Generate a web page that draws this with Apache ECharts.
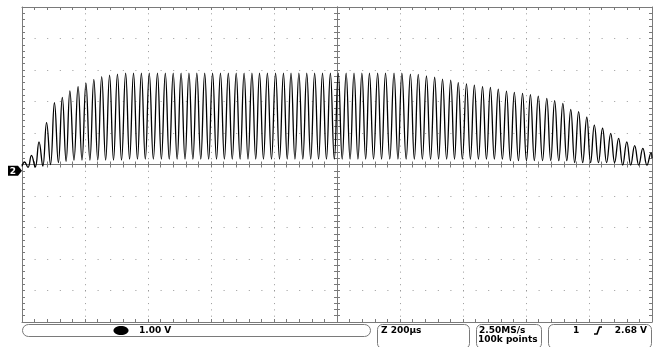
<!DOCTYPE html>
<html>
<head>
<meta charset="utf-8">
<script src="https://cdn.jsdelivr.net/npm/echarts@6/dist/echarts.min.js"></script>
<style>
  html, body { margin: 0; padding: 0; background: #fff; }
  #chart { width: 659px; height: 347px; }
</style>
</head>
<body>
<div id="chart"></div>
<script>
// time of each peak, µs (200 µs/div, trigger at 0)
const PEAK_T = [
  -992, -970, -946, -922, -897, -872, -848, -822, -797, -772,
  -747, -722, -697, -671, -646, -621, -596, -570, -545, -520,
  -495, -470, -445, -420, -395, -370, -345, -320, -295, -270,
  -246, -221, -195, -170, -146, -121, -96, -71, -46, -21,
  4, 29, 54, 79, 103, 129, 154, 181, 206, 233,
  258, 284, 310, 335, 361, 385, 411, 436, 462, 487,
  512, 538, 563, 589, 614, 639, 666, 691, 717, 742,
  767, 793, 817, 843, 869, 894, 920, 945, 971, 997
];
// peak voltage of each cycle, V (1.00 V/div)
const PEAK_V = [
  0.08, 0.29, 0.72, 1.33, 1.96, 2.13, 2.34, 2.47, 2.58, 2.70,
  2.79, 2.84, 2.87, 2.90, 2.90, 2.90, 2.90, 2.90, 2.90, 2.90,
  2.90, 2.90, 2.90, 2.90, 2.90, 2.90, 2.90, 2.90, 2.90, 2.90,
  2.90, 2.90, 2.90, 2.90, 2.90, 2.90, 2.90, 2.90, 2.90, 2.90,
  2.90, 2.90, 2.90, 2.90, 2.90, 2.90, 2.90, 2.90, 2.90, 2.87,
  2.86, 2.81, 2.77, 2.71, 2.68, 2.60, 2.56, 2.52, 2.47, 2.45,
  2.39, 2.33, 2.29, 2.26, 2.22, 2.17, 2.10, 2.03, 1.94, 1.75,
  1.68, 1.50, 1.25, 1.15, 0.99, 0.83, 0.72, 0.60, 0.51, 0.37
];
// minimum between consecutive peaks, V
const TROUGH_V = [
  -0.09, -0.08, -0.05, 0.00, 0.06, 0.10, 0.14, 0.14, 0.14, 0.14,
  0.14, 0.14, 0.14, 0.17, 0.17, 0.17, 0.17, 0.17, 0.17, 0.17,
  0.17, 0.17, 0.17, 0.17, 0.17, 0.17, 0.17, 0.17, 0.17, 0.17,
  0.17, 0.17, 0.17, 0.17, 0.17, 0.17, 0.17, 0.17, 0.17, 0.17,
  0.17, 0.17, 0.17, 0.17, 0.17, 0.17, 0.17, 0.17, 0.17, 0.17,
  0.17, 0.17, 0.17, 0.17, 0.17, 0.17, 0.17, 0.17, 0.17, 0.17,
  0.17, 0.12, 0.12, 0.12, 0.12, 0.12, 0.12, 0.12, 0.12, 0.06,
  0.06, 0.06, 0.06, 0.06, 0.06, -0.02, -0.02, -0.02, -0.02
];
const TRACE_START = [-1000, -0.06];
const TRACE_END = [1000, 0.2];
const GROUND_V = -0.2;

const X_RANGE = [-1000, 1000];
const Y_RANGE = [-5, 5];

const FRAME = "#7a7a7a";
const DOTS = "#999";
const FONT = 'bold 9px "DejaVu Sans"';

const trace = [TRACE_START];
PEAK_T.forEach((t, i) => {
  trace.push([t, PEAK_V[i]]);
  if (i < TROUGH_V.length) trace.push([(t + PEAK_T[i + 1]) / 2, TROUGH_V[i]]);
});
trace.push(TRACE_END);

// one axis of the graticule: border or centre line, ticks every 1/5 div
function graticuleAxis(dim, position, onZero, dots) {
  const isX = dim === "x";
  const range = isX ? X_RANGE : Y_RANGE;
  return {
    type: "value",
    min: range[0],
    max: range[1],
    interval: isX ? 200 : 1,
    position,
    axisLine: {
      onZero,
      onZeroAxisIndex: 0,
      lineStyle: { color: FRAME, width: 1 },
    },
    axisTick: { inside: true, length: 3, lineStyle: { color: FRAME } },
    minorTick: { show: true, splitNumber: 5, length: 3, lineStyle: { color: FRAME } },
    axisLabel: { show: false },
    splitLine: {
      show: dots,
      lineStyle: { color: DOTS, width: 1, type: isX ? [1, 5.3] : [1, 11.6] },
    },
  };
}

function box(id, x, y, w, h, r) {
  return {
    id,
    type: "rect",
    shape: { x, y, width: w, height: h, r },
    style: { fill: "#fff", stroke: FRAME, lineWidth: 1 },
  };
}
function label(id, text, x, y, align) {
  return {
    id,
    type: "text",
    z: 10,
    style: { text, x, y, font: FONT, fill: "#000", align: align || "left", verticalAlign: "middle" },
  };
}

// readout bar under the graticule
const readout = [
  box("b1", 22.5, 324.5, 348, 12, 6),
  box("b2", 377.5, 324.5, 92, 24, 5),
  box("b3", 476.5, 324.5, 65, 24, 5),
  box("b4", 548.5, 324.5, 103, 24, 5),
  { id: "coupling", type: "ellipse", z: 10, shape: { cx: 121, cy: 330.5, rx: 7.5, ry: 4.5 }, style: { fill: "#000" } },
  label("t1", "1.00 V", 139, 330.5),
  label("t2", "Z 200µs", 381, 330.5),
  label("t3", "2.50MS/s", 479, 331),
  label("t4", "100k points", 478, 339.5),
  label("t5", "1", 573, 330.5),
  {
    id: "edge",
    type: "polyline",
    z: 10,
    shape: { points: [[594, 334], [597, 334], [599.5, 327], [602, 327]] },
    style: { stroke: "#000", lineWidth: 1.6, fill: null },
  },
  label("t6", "2.68 V", 647, 330.5, "right"),
];

const chart = echarts.init(document.getElementById("chart"));
chart.setOption({
  animation: false,
  backgroundColor: "#fff",
  grid: { left: 22, top: 7, width: 630, height: 315 },
  xAxis: [
    graticuleAxis("x", "bottom", false, true),
    graticuleAxis("x", "top", false, false),
    graticuleAxis("x", "bottom", true, false),
    graticuleAxis("x", "top", true, false),
  ],
  yAxis: [
    graticuleAxis("y", "left", false, true),
    graticuleAxis("y", "right", false, false),
    graticuleAxis("y", "left", true, false),
    graticuleAxis("y", "right", true, false),
  ],
  series: [
    {
      type: "line",
      xAxisIndex: 0,
      yAxisIndex: 0,
      data: trace,
      showSymbol: false,
      smooth: 0.45,
      lineStyle: { color: "#000", width: 1.3 },
      z: 5,
    },
  ],
  graphic: readout,
});

// channel 2 ground marker, placed on the volt scale
const gy = chart.convertToPixel({ yAxisIndex: 0 }, GROUND_V);
const gx = chart.convertToPixel({ xAxisIndex: 0 }, X_RANGE[0]);
chart.setOption({
  graphic: readout.concat([
    {
      id: "ground",
      type: "group",
      x: gx,
      y: gy,
      z: 10,
      children: [
        {
          type: "polygon",
          shape: { points: [[-14, -5], [-4, -5], [0, 0], [-4, 5], [-14, 5]] },
          style: { fill: "#000" },
        },
        {
          type: "text",
          style: { text: "2", x: -9, y: 0.5, font: 'bold 9px "DejaVu Sans"', fill: "#fff", align: "center", verticalAlign: "middle" },
        },
      ],
    },
  ]),
});
</script>
</body>
</html>
